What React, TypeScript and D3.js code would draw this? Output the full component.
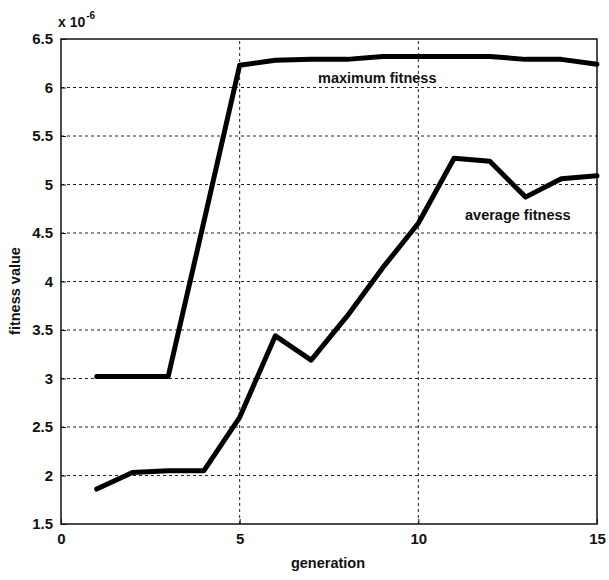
import React, { useEffect, useRef } from "react";
import * as d3 from "d3";

const generations = [1, 2, 3, 4, 5, 6, 7, 8, 9, 10, 11, 12, 13, 14, 15];
const maxFitness = [3.02, 3.02, 3.02, 4.62, 6.23, 6.28, 6.29, 6.29, 6.32, 6.32, 6.32, 6.32, 6.29, 6.29, 6.24];
const avgFitness = [1.86, 2.03, 2.05, 2.05, 2.6, 3.44, 3.19, 3.64, 4.14, 4.6, 5.27, 5.24, 4.87, 5.06, 5.09];
const xTicks = [0, 5, 10, 15];
const yTicks = [1.5, 2, 2.5, 3, 3.5, 4, 4.5, 5, 5.5, 6, 6.5];

export default function App() {
    const ref = useRef<HTMLDivElement>(null);

    useEffect(() => {
        const container = d3.select(ref.current);
        container.selectAll("*").remove();
        const width = 609, height = 580;
        const margin = { top: 39, right: 12, bottom: 56, left: 61 };

        const svg = container.append("svg")
            .attr("width", width).attr("height", height)
            .style("position", "absolute").style("left", 0).style("top", 0)
            .style("background", "#fff")
            .style("font-family", "'Liberation Sans', Arial, sans-serif");

        const x = d3.scaleLinear().domain([0, 15]).range([margin.left, width - margin.right]);
        const y = d3.scaleLinear().domain([1.5, 6.5]).range([height - margin.bottom, margin.top]);

        // grid
        const grid = svg.append("g").attr("stroke", "#222").attr("stroke-width", 1).attr("stroke-dasharray", "3,3");
        grid.selectAll("line.gx").data(xTicks.slice(1, -1)).join("line")
            .attr("x1", (d) => x(d)).attr("x2", (d) => x(d))
            .attr("y1", y(1.5)).attr("y2", y(6.5));
        grid.selectAll("line.gy").data(yTicks.slice(1, -1)).join("line")
            .attr("class", "gy")
            .attr("x1", x(0)).attr("x2", x(15))
            .attr("y1", (d) => y(d)).attr("y2", (d) => y(d));

        // axes (box)
        svg.append("rect")
            .attr("x", x(0)).attr("y", y(6.5))
            .attr("width", x(15) - x(0)).attr("height", y(1.5) - y(6.5))
            .attr("fill", "none").attr("stroke", "#111").attr("stroke-width", 1.5);

        const yAxis = svg.append("g").attr("transform", `translate(${x(0)},0)`)
            .call(d3.axisLeft(y).tickValues(yTicks).tickSizeInner(-5).tickSizeOuter(0).tickPadding(8).tickFormat(d3.format("")));
        const xAxis = svg.append("g").attr("transform", `translate(0,${y(1.5)})`)
            .call(d3.axisBottom(x).tickValues(xTicks).tickSizeInner(-5).tickSizeOuter(0).tickPadding(9).tickFormat(d3.format("")));
        [xAxis, yAxis].forEach((a) => {
            a.select(".domain").remove();
            a.selectAll("line").attr("stroke", "#111");
            a.selectAll("text").attr("fill", "#111").attr("font-size", 15).attr("font-weight", "bold")
                .attr("font-family", "'Liberation Sans', Arial, sans-serif");
        });

        // lines
        const line = d3.line<number>()
            .x((_, i) => x(generations[i]))
            .y((d) => y(d));
        [maxFitness, avgFitness].forEach((s) => {
            svg.append("path").datum(s).attr("d", line)
                .attr("fill", "none").attr("stroke", "#000").attr("stroke-width", 5)
                .attr("stroke-linejoin", "round").attr("stroke-linecap", "round");
        });

        // texts
        const txt = (tx: number, ty: number, s: string, size: number, anchor = "start", rot = 0) =>
            svg.append("text").attr("x", tx).attr("y", ty).attr("font-size", size)
                .attr("font-weight", "bold").attr("text-anchor", anchor).attr("fill", "#111")
                .attr("transform", rot ? `rotate(${rot},${tx},${ty})` : null)
                .text(s);

        txt(318, 83, "maximum fitness", 14.5);
        txt(465, 220, "average fitness", 14.5);
        txt(328, 568, "generation", 14.5, "middle");
        txt(20, 291, "fitness value", 14.5, "middle", -90);
        const ex = txt(58, 27, "x 10", 14);
        ex.append("tspan").attr("font-size", 10).attr("dy", -8).attr("dx", 1).text("-6");
    }, []);

    return <div ref={ref} style={{ width: 609, height: 580 }}></div>;
}
